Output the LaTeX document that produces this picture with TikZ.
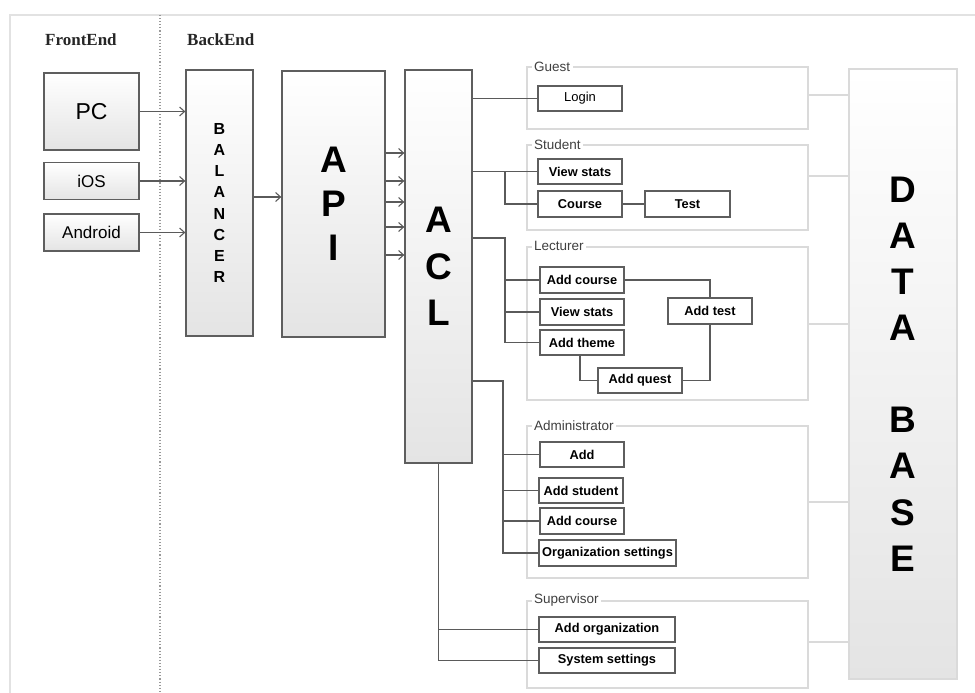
\documentclass[tikz,border=0pt]{standalone}
\usepackage{fontspec}
\setmainfont{Liberation Sans}
\newfontfamily\serifbf{Liberation Serif}
\usetikzlibrary{arrows.meta,calc}
\definecolor{boxgray}{HTML}{5E5E5E}
\definecolor{linegray}{HTML}{5A5A5A}
\definecolor{framegray}{HTML}{DADADA}
\definecolor{outergray}{HTML}{E2E2E2}
\definecolor{fillgray}{HTML}{E4E4E4}
\definecolor{labelgray}{HTML}{404040}
\tikzset{
  box/.style={draw=boxgray, line width=1.3pt, top color=white, bottom color=fillgray, inner sep=0pt, text=black},
  smallbox/.style={draw=boxgray, line width=1.3pt, fill=white, inner sep=0pt, minimum width=84pt, minimum height=25pt, font=\fontsize{12.8}{15}\selectfont\bfseries},
  grp/.style={draw=framegray, line width=1.2pt, inner sep=0pt},
  glabel/.style={fill=white, inner xsep=2.5pt, inner ysep=1pt, text=labelgray, font=\fontsize{13.5}{16}\selectfont},
  conn/.style={draw=linegray, line width=1.1pt},
  arr/.style={conn, -{Straight Barb[length=5pt,width=9pt,line width=1.1pt]}},
  dbline/.style={draw=framegray, line width=1.2pt},
  hdr/.style={anchor=west, inner sep=0pt, font=\serifbf\bfseries\fontsize{17}{20}\selectfont, text=black!85}
}
\begin{document}
\begin{tikzpicture}[x=1pt,y=-1pt]
\useasboundingbox (0,0) rectangle (975,693);
% outer frame and separator
\draw[outergray, line width=2pt] (975,15) -- (10,15) -- (10,693);
\draw[gray!80, line width=1.1pt, dotted] (160,15) -- (160,693);
% headers
\node[hdr] (fe) at (45,40) {FrontEnd};
\node[hdr] (be) at (187,40) {BackEnd};
% front end boxes
\node[box, minimum width=95pt, minimum height=77pt, font=\fontsize{23}{26}\selectfont] (pc) at (91.5,111.5) {PC};
\node[box, minimum width=95pt, minimum height=37pt, font=\fontsize{17}{20}\selectfont] (ios) at (91.5,181) {iOS};
\node[box, minimum width=95pt, minimum height=37pt, font=\fontsize{17}{20}\selectfont] (android) at (91.5,232.5) {Android};
% back end big boxes
\node[box, minimum width=67pt, minimum height=266pt, align=center, font=\fontsize{16}{21.1}\selectfont\bfseries] (bal) at (219.5,203) {B\\A\\L\\A\\N\\C\\E\\R};
\node[box, minimum width=103pt, minimum height=266pt, align=center, font=\fontsize{37}{44}\selectfont\bfseries] (api) at (333.5,204) {A\\P\\I};
\node[box, minimum width=67pt, minimum height=393pt, align=center, font=\fontsize{37}{46.5}\selectfont\bfseries] (acl) at (438.5,266.5) {A\\C\\L};
\node[box, draw=framegray, minimum width=108pt, minimum height=610pt, align=center, font=\fontsize{37}{46.1}\selectfont\bfseries] (db) at (903,374) {D\\A\\T\\A\\[46.1pt]B\\A\\S\\E};
% arrows
\draw[arr] (pc.east) -- (pc.east -| bal.west);
\draw[arr] (ios.east) -- (ios.east -| bal.west);
\draw[arr] (android.east) -- (android.east -| bal.west);
\coordinate (bo) at ($(bal.east)+(0,-6)$);
\draw[arr] (bo) -- (bo -| api.west);
\foreach \yy in {153,181,202,227,255}{
  \coordinate (ao) at ($(api.east)+(0,\yy-204)$);
  \draw[arr] (ao) -- (ao -| acl.west);
}
% groups
\node[grp, minimum width=281pt, minimum height=62pt] (gguest) at (667.5,98) {};
\node[grp, minimum width=281pt, minimum height=85pt] (gstud) at (667.5,187.5) {};
\node[grp, minimum width=281pt, minimum height=153pt] (glect) at (667.5,323.5) {};
\node[grp, minimum width=281pt, minimum height=152pt] (gadmin) at (667.5,502) {};
\node[grp, minimum width=281pt, minimum height=87pt] (gsup) at (667.5,644.5) {};
\node[glabel, anchor=west] at ([xshift=5pt]gguest.north west) {Guest};
\node[glabel, anchor=west] at ([xshift=5pt]gstud.north west) {Student};
\node[glabel, anchor=west] at ([xshift=5pt]glect.north west) {Lecturer};
\node[glabel, anchor=west] at ([xshift=5pt]gadmin.north west) {Administrator};
\node[glabel, anchor=west] at ([xshift=5pt]gsup.north west) {Supervisor};
% group to database lines
\coordinate (d1) at ($(gguest.east)+(0,-3)$);
\coordinate (d2) at ($(gstud.east)+(0,-11.5)$);
\coordinate (d3) at ($(glect.east)+(0,0.5)$);
\coordinate (d4) at (gadmin.east);
\coordinate (d5) at ($(gsup.east)+(0,-2.5)$);
\foreach \d in {d1,d2,d3,d4,d5}{\draw[dbline] (\d) -- (\d -| db.west);}
% small boxes
\node[smallbox, font=\fontsize{13}{15}\selectfont] (login) at (580,98.5) {Login};
\node[smallbox] (vs1) at (580,171.5) {View stats};
\node[smallbox, minimum height=26pt] (course) at (580,204) {Course};
\node[smallbox, minimum width=85pt, minimum height=26pt] (test) at (687.5,204) {Test};
\node[smallbox, minimum height=26pt] (ac1) at (582,280) {Add course};
\node[smallbox, minimum height=26pt] (vs2) at (582,312) {View stats};
\node[smallbox] (theme) at (582,342.5) {Add theme};
\node[smallbox, minimum height=26pt] (addtest) at (710,311) {Add test};
\node[smallbox] (quest) at (640,380.5) {Add quest};
\node[smallbox] (add) at (582,454.5) {Add};
\node[smallbox] (addstud) at (581,490.5) {Add student};
\node[smallbox, minimum height=26pt] (ac2) at (582,521) {Add course};
\node[smallbox, minimum width=137pt, minimum height=26pt] (org) at (607.5,553) {Organization settings};
\node[smallbox, minimum width=136pt] (addorg) at (607,629.5) {Add organization};
\node[smallbox, minimum width=136pt] (sys) at (607,660.5) {System settings};
% guest
\draw[conn] (acl.east |- login.west) -- (login.west);
% student
\coordinate (sj) at (505,171.5);
\draw[conn] (acl.east |- sj) -- (vs1.west);
\draw[conn] (sj) |- (course.west);
\draw[conn] (course.east) -- (test.west);
% lecturer
\coordinate (lj) at (505,238);
\draw[conn] (acl.east |- lj) -- (lj) |- (theme.west);
\draw[conn] (lj |- ac1.west) -- (ac1.west);
\draw[conn] (lj |- vs2.west) -- (vs2.west);
\draw[conn] (ac1.east) -| (addtest.north);
\draw[conn] (addtest.south) |- (quest.east);
\draw[conn] ([xshift=-2pt]theme.south) |- (quest.west);
% administrator
\coordinate (aj) at (503,381);
\draw[conn] (acl.east |- aj) -- (aj) |- (org.west);
\draw[conn] (aj |- add.west) -- (add.west);
\draw[conn] (aj |- addstud.west) -- (addstud.west);
\draw[conn] (aj |- ac2.west) -- (ac2.west);
% supervisor
\draw[conn] (acl.south) |- (sys.west);
\draw[conn] (acl.south |- addorg.west) -- (addorg.west);
\end{tikzpicture}
\end{document}
